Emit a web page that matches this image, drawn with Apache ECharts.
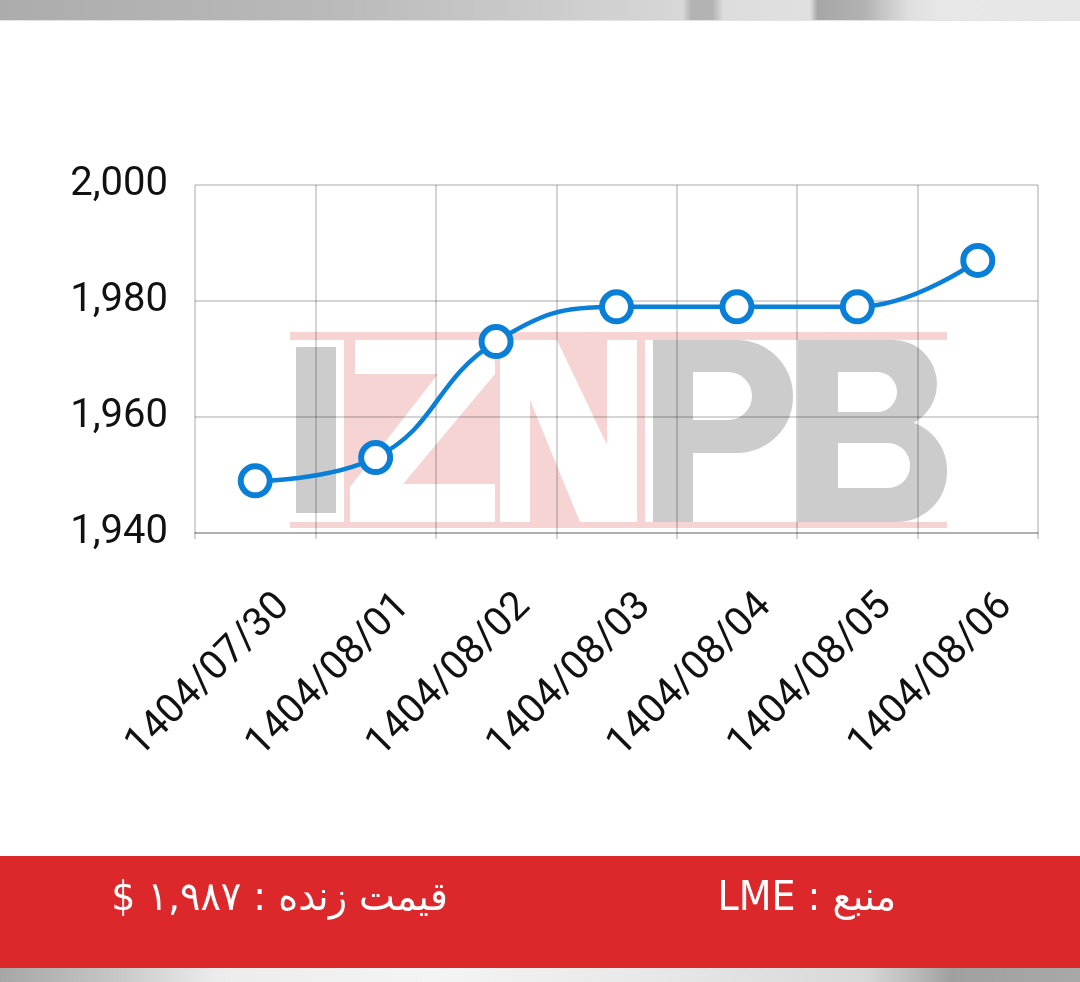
<!DOCTYPE html>
<html>
<head>
<meta charset="utf-8">
<title>Price chart</title>
<script src="https://cdn.jsdelivr.net/npm/echarts@6/dist/echarts.min.js"></script>
<style>
  html, body { margin: 0; padding: 0; background: #fff; }
  #chart { width: 1080px; height: 982px; }
</style>
</head>
<body>
<div id="chart"></div>
<script>
// data
const categories = ['1404/07/30', '1404/08/01', '1404/08/02', '1404/08/03', '1404/08/04', '1404/08/05', '1404/08/06'];
const prices = [1949, 1953, 1973, 1979, 1979, 1979, 1987];
const yMin = 1940;
const yMax = 2000;
const yStep = 20;
const livePrice = '\u202Bقیمت زنده : ۱,۹۸۷ $\u202C';
const source = '\u202Bمنبع : LME\u202C';

const chart = echarts.init(document.getElementById('chart'));

const blue = '#0a7fd7';
const gridColor = 'rgba(0,0,0,0.17)';
const pink = '#f7d4d4';
const gray = '#cccccc';
const white = '#ffffff';

function rect(x, y, w, h, fill, r) {
  return { type: 'rect', z: -10, silent: true, shape: { x: x, y: y, width: w, height: h, r: r || 0 }, style: { fill: fill } };
}
function poly(points, fill) {
  return { type: 'polygon', z: -10, silent: true, shape: { points: points }, style: { fill: fill } };
}

// watermark logo "IZNPB"
const logo = [
  rect(290, 332, 657, 8, pink),
  rect(290, 522, 657, 6, pink),
  rect(296, 347, 40, 166, gray),
  rect(344, 340, 301, 182, pink),
  poly([[355, 340], [495, 340], [495, 374], [403, 484], [495, 484], [495, 522], [350, 522], [350, 487], [438, 374], [355, 374]], white),
  poly([[500, 340], [557, 340], [607, 445], [607, 340], [637, 340], [637, 522], [580, 522], [530, 400], [530, 522], [500, 522]], white),
  // P
  rect(653, 340, 40, 182, gray),
  rect(653, 340, 140, 113, gray, [0, 56, 56, 0]),
  rect(693, 372, 59, 48, white, [0, 24, 24, 0]),
  // B
  rect(798, 340, 139, 88, gray, [0, 44, 44, 0]),
  rect(798, 420, 149, 102, gray, [0, 50, 50, 0]),
  rect(838, 372, 59, 40, white, [0, 20, 20, 0]),
  rect(838, 443, 72, 45, white, [0, 22, 22, 0])
];

const frame = [
  {
    type: 'rect', z: -10, silent: true,
    shape: { x: 0, y: 0, width: 1080, height: 20 },
    style: {
      fill: {
        type: 'linear', x: 0, y: 0, x2: 1, y2: 0,
        colorStops: [
          { offset: 0, color: '#acacac' }, { offset: 0.3, color: '#b9b9b9' },
          { offset: 0.62, color: '#d6d6d6' }, { offset: 0.632, color: '#d8d8d8' },
          { offset: 0.64, color: '#b2b2b2' }, { offset: 0.66, color: '#b4b4b4' },
          { offset: 0.67, color: '#dddddd' }, { offset: 0.75, color: '#e0e0e0' },
          { offset: 0.757, color: '#a6a6a6' }, { offset: 0.8, color: '#b2b2b2' },
          { offset: 0.84, color: '#dedede' }, { offset: 0.87, color: '#e8e8e8' },
          { offset: 1, color: '#e6e6e6' }
        ]
      }
    }
  },
  rect(0, 20, 1080, 1, '#e4e4e4'),
  rect(0, 856, 1080, 112, '#dc282a'),
  {
    type: 'rect', z: -10, silent: true,
    shape: { x: 0, y: 968, width: 1080, height: 14 },
    style: {
      fill: {
        type: 'linear', x: 0, y: 0, x2: 1, y2: 0,
        colorStops: [
          { offset: 0, color: '#a6a6a6' }, { offset: 0.1, color: '#c4c4c4' },
          { offset: 0.2, color: '#ececec' }, { offset: 0.4, color: '#f4f4f4' },
          { offset: 0.6, color: '#e8e8e8' }, { offset: 0.8, color: '#d8d8d8' },
          { offset: 0.85, color: '#b8b8b8' }, { offset: 0.88, color: '#a0a0a0' },
          { offset: 1, color: '#a8a8a8' }
        ]
      }
    }
  },
  {
    type: 'text', z: 5, silent: true, x: 448, y: 900, scaleX: 0.95,
    style: { text: livePrice, fill: '#fff', fontSize: 40, fontFamily: '"DejaVu Sans"', align: 'right', verticalAlign: 'middle' }
  },
  {
    type: 'text', z: 5, silent: true, x: 896, y: 900, scaleX: 0.95,
    style: { text: source, fill: '#fff', fontSize: 40, fontFamily: '"DejaVu Sans"', align: 'right', verticalAlign: 'middle' }
  }
];

const option = {
  backgroundColor: '#fff',
  animation: false,
  graphic: { elements: frame.concat(logo) },
  grid: { left: 195, right: 42, top: 185, bottom: 449 },
  xAxis: {
    type: 'category',
    data: categories,
    boundaryGap: true,
    axisLine: { lineStyle: { color: gridColor, width: 2 } },
    axisTick: { show: true, length: 6, lineStyle: { color: gridColor, width: 2 } },
    splitLine: { show: true, lineStyle: { color: gridColor, width: 2 } },
    axisLabel: {
      interval: 0,
      rotate: 45,
      fontSize: 40,
      fontFamily: 'Roboto',
      color: '#111',
      verticalAlign: 'top',
      lineHeight: 80,
      margin: 39
    }
  },
  yAxis: {
    type: 'value',
    min: yMin,
    max: yMax,
    interval: yStep,
    axisLine: { show: false },
    axisTick: { show: false },
    splitLine: { show: true, lineStyle: { color: gridColor, width: 2 } },
    axisLabel: {
      fontSize: 40,
      fontFamily: 'Roboto',
      color: '#111',
      margin: 27,
      formatter: (v) => v.toLocaleString('en-US')
    }
  },
  series: [
    {
      type: 'line',
      data: prices,
      smooth: 0.45,
      symbol: 'circle',
      symbolSize: 29,
      lineStyle: { color: blue, width: 4.5 },
      itemStyle: { color: white, borderColor: blue, borderWidth: 6 }
    }
  ]
};

chart.setOption(option);
</script>
</body>
</html>
